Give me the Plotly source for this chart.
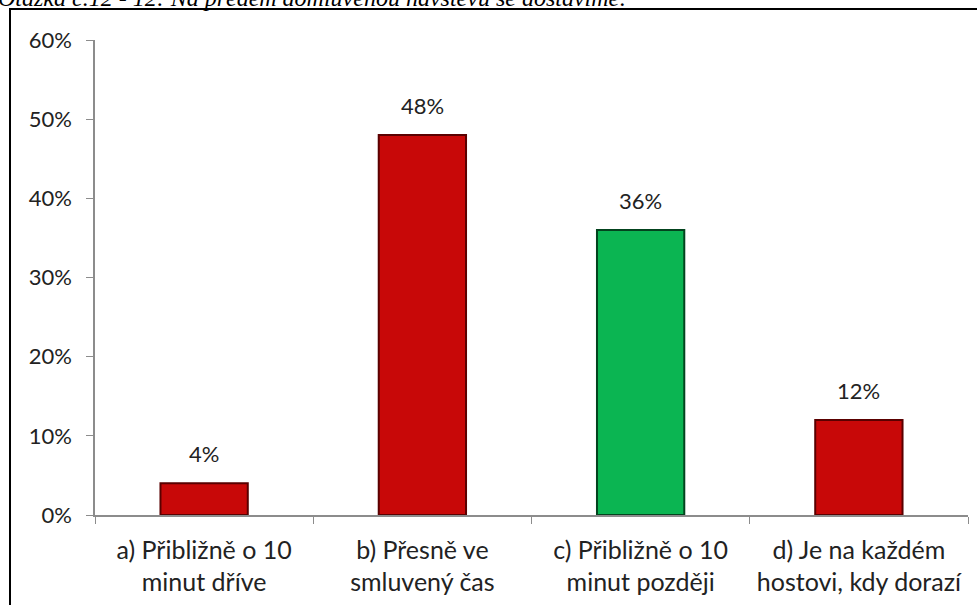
import plotly.graph_objects as go

categories = ["a) Přibližně o 10<br>minut dříve", "b) Přesně ve<br>smluvený čas",
              "c) Přibližně o 10<br>minut později", "d) Je na každém<br>hostovi, kdy dorazí"]
values = [0.04, 0.48, 0.36, 0.12]
labels = ["4%", "48%", "36%", "12%"]
colors = ["#C80808", "#C80808", "#0BB552", "#C80808"]
edge = ["#5A0000", "#5A0000", "#03431E", "#5A0000"]
title_text = "Otázka č.12 - 12: Na předem domluvenou návštěvu se dostavíme:"

W, H = 977, 605
L, R, T, B = 95, 9, 40, 90
pw, ph = W - L - R, H - T - B
FONT = "Lato, Open Sans, sans-serif"

fig = go.Figure()
fig.add_trace(go.Bar(
    x=categories, y=values, width=0.40,
    marker=dict(color=colors, line=dict(color=edge, width=2)),
    hoverinfo="skip",
))

for c, v, t in zip(categories, values, labels):
    fig.add_annotation(x=c, y=v, text=t, showarrow=False, yanchor="bottom", yshift=14,
                       font=dict(family=FONT, size=22, color="#222222"))

# frame
fig.add_shape(type="rect", xref="paper", yref="paper",
              x0=(10 - L) / pw, x1=1.5, y0=-0.5, y1=1 + (T - 9) / ph,
              line=dict(color="black", width=2), layer="below")

fig.add_annotation(xref="paper", yref="paper", x=(-4 - L) / pw, y=1 + (T - 7) / ph,
                   xanchor="left", yanchor="bottom", text="<i>" + title_text + "</i>",
                   showarrow=False, yshift=-6,
                   font=dict(family="Liberation Serif, Times New Roman, serif", size=24, color="black"))

fig.update_layout(
    width=W, height=H, margin=dict(l=L, r=R, t=T, b=B),
    paper_bgcolor="white", plot_bgcolor="white", showlegend=False,
    font=dict(family=FONT, size=22, color="#222222"),
    xaxis=dict(showline=True, linecolor="#8C8C8C", linewidth=1.5, ticks="outside",
               tickson="boundaries", ticklen=7, tickcolor="#8C8C8C", showgrid=False,
               tickfont=dict(size=25), ticklabelstandoff=12),
    yaxis=dict(range=[0, 0.6], dtick=0.1, tickformat=".0%", showline=True, linecolor="#8C8C8C",
               linewidth=1.5, ticks="outside", ticklen=7, tickcolor="#8C8C8C",
               showgrid=False, zeroline=False, tickfont=dict(size=22), ticklabelstandoff=10),
)

fig.write_html("out.html", config={"displayModeBar": False},
               post_script="document.body.style.margin='0';")
